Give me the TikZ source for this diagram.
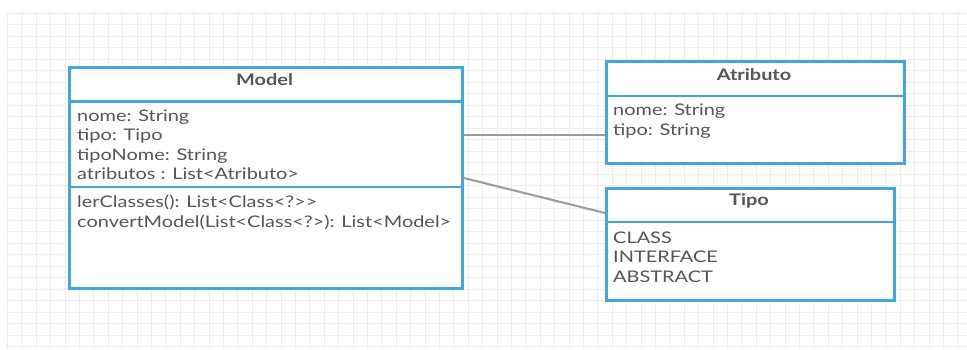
\documentclass[tikz,border=0pt]{standalone}
\usepackage{fontspec}
\setmainfont{Lato}[FakeStretch=1.245]
\definecolor{umlblue}{HTML}{41A6E2}
\definecolor{umltext}{HTML}{555555}
\definecolor{gridminor}{HTML}{EDEDED}
\definecolor{linkgray}{HTML}{9A9A9A}
\tikzset{
  umlbox/.style={draw=umlblue, line width=2.8pt, fill=white, anchor=north west, inner sep=0pt},
  sepline/.style={draw=umlblue, line width=2.8pt},
  member/.style={anchor=base west, inner sep=0pt, text=umltext, font=\fontsize{16}{19}\selectfont},
  title/.style={anchor=base, inner sep=0pt, text=umltext, font=\fontsize{16}{19}\selectfont\bfseries},
  link/.style={draw=linkgray, line width=2pt},
}
\begin{document}
\begin{tikzpicture}[x=1pt,y=-1pt]
\useasboundingbox (0,0) rectangle (967,349);
\fill[white] (0,0) rectangle (967,349);
% grid
\foreach \i in {0,...,66} {
  \draw[gridminor, line width=0.8pt] ({7.3+14.4*\i},12) -- ({7.3+14.4*\i},349);
}
\foreach \j in {0,...,29} {
  \draw[gridminor, line width=0.8pt] (6,{13.3+11.5*\j}) -- (967,{13.3+11.5*\j});
}
% boxes
\node[umlbox, minimum width=393pt, minimum height=221pt] (model) at (68,66) {};
\node[umlbox, minimum width=298pt, minimum height=102pt] (atributo) at (605,60) {};
\node[umlbox, minimum width=288pt, minimum height=112pt] (tipo) at (605,187) {};
% separators
\draw[sepline] (model.north west |- 0,101.5) -- (model.north east |- 0,101.5);
\draw[sepline] (model.north west |- 0,187) -- (model.north east |- 0,187);
\draw[sepline] (atributo.north west |- 0,96) -- (atributo.north east |- 0,96);
\draw[sepline] (tipo.north west |- 0,222) -- (tipo.north east |- 0,222);
% connectors
\coordinate (m1) at (model.north east |- 0,135);
\coordinate (a1) at (atributo.north west |- 0,135);
\coordinate (m2) at (model.north east |- 0,178);
\coordinate (t1) at (tipo.north west |- 0,213);
\draw[link] (m1) -- (a1);
\draw[link] (m2) -- (t1);
% Model texts
\node[title] (modelT) at (264.5,85) {Model};
\node[member] (mA1) at (77,121) {nome: String};
\node[member] (mA2) at (77,140.5) {tipo: Tipo};
\node[member] (mA3) at (77,160) {tipoNome: String};
\node[member] (mA4) at (77,179.5) {atributos : List<Atributo>};
\node[member] (mO1) at (77,207.5) {lerClasses(): List<Class<?>{}>};
\node[member] (mO2) at (77,227) {convertModel(List<Class<?>): List<Model>};
% Atributo texts
\node[title] (atributoT) at (754,80) {Atributo};
\node[member] (aA1) at (613,115.5) {nome: String};
\node[member] (aA2) at (613,135) {tipo: String};
% Tipo texts
\node[title] (tipoT) at (749,205.5) {Tipo};
\node[member] (tA1) at (613,243) {CLASS};
\node[member] (tA2) at (613,262.5) {INTERFACE};
\node[member] (tA3) at (613,282) {ABSTRACT};
\end{tikzpicture}
\end{document}
